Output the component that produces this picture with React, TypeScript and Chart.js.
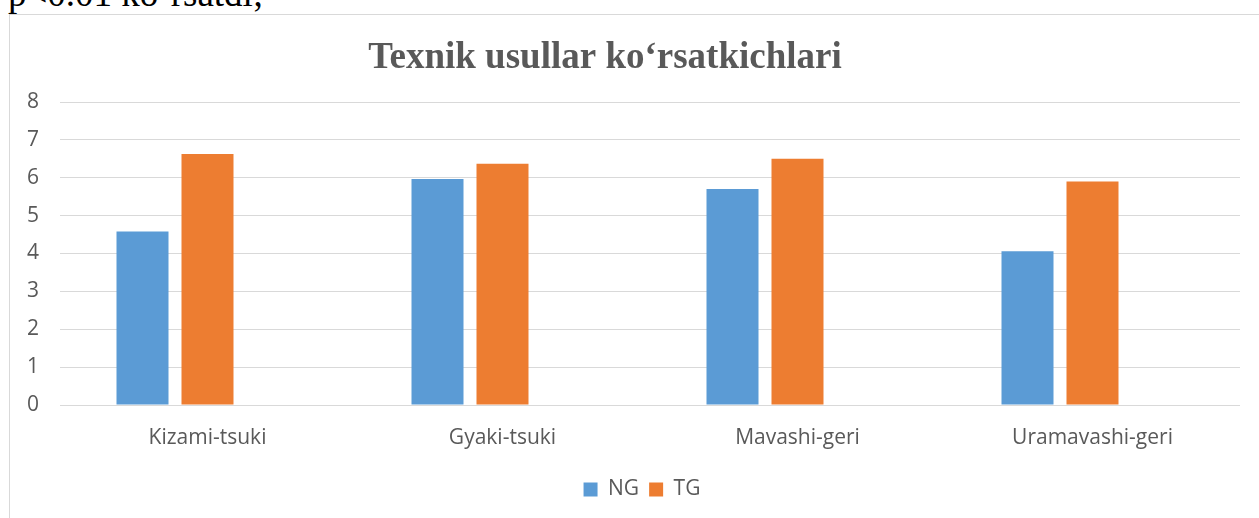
import React, { useEffect, useRef } from "react";
import { Chart, registerables } from "chart.js";

Chart.register(...registerables);

const categories = ["Kizami-tsuki", "Gyaki-tsuki", "Mavashi-geri", "Uramavashi-geri"];
const ngValues = [4.58, 5.97, 5.7, 4.06];
const tgValues = [6.63, 6.37, 6.5, 5.9];
const emptyValues: (number | null)[] = [null, null, null, null];
const seriesNames = ["NG", "TG", ""];
const yMin = 0;
const yMax = 8;
const yStep = 1;
const chartTitle = "Texnik usullar ko‘rsatkichlari";
const topText = "p<0.01 ko‘rsatdi;";

const TICK_FONT = { family: "'Open Sans', sans-serif", size: 21 };
const GREY = "#595959";

const titlePlugin = {
  id: "customTitle",
  afterDraw(chart: any) {
    const ctx = chart.ctx;
    ctx.save();
    ctx.font = "bold 37px 'Liberation Serif', 'Times New Roman', serif";
    ctx.fillStyle = GREY;
    ctx.textAlign = "center";
    ctx.textBaseline = "alphabetic";
    ctx.fillText(chartTitle, 595, 53);
    ctx.restore();
  },
};

function BarChart() {
  const ref = useRef<HTMLCanvasElement | null>(null);
  useEffect(() => {
    if (!ref.current) return;
    const chart = new Chart(ref.current, {
      type: "bar",
      data: {
        labels: categories,
        datasets: [
          { label: seriesNames[0], data: ngValues, backgroundColor: "#5B9BD5" },
          { label: seriesNames[1], data: tgValues, backgroundColor: "#ED7D31" },
          { label: seriesNames[2], data: emptyValues, backgroundColor: "#A5A5A5" },
        ],
      },
      options: {
        responsive: false,
        animation: false,
        layout: { padding: { top: 87, right: 30, left: 34, bottom: 15 } },
        datasets: {
          bar: { categoryPercentage: 0.661, barPercentage: 0.8 },
        },
        scales: {
          x: {
            grid: { display: false, drawTicks: false },
            border: { display: false },
            ticks: { font: TICK_FONT, color: GREY, padding: 20, maxRotation: 0 },
            afterFit(scale: any) {
              scale.height = 64;
            },
          },
          y: {
            min: yMin,
            max: yMax,
            grid: { color: "#d9d9d9", lineWidth: 1, drawTicks: false },
            border: { display: false },
            ticks: {
              stepSize: yStep,
              font: TICK_FONT,
              color: GREY,
              mirror: true,
              crossAlign: "near",
              padding: -33,
            },
            afterFit(scale: any) {
              scale.width = 16;
            },
          },
        },
        plugins: {
          title: { display: false },
          tooltip: { enabled: false },
          legend: {
            position: "bottom",
            labels: {
              boxWidth: 14,
              boxHeight: 14,
              padding: 10,
              font: TICK_FONT,
              color: GREY,
              filter: (item: any) => item.text !== "",
            },
          },
        },
      },
      plugins: [titlePlugin],
    });
    return () => chart.destroy();
  }, []);
  return <canvas ref={ref} width={1260} height={510} style={{ display: "block" }} />;
}

export default function App() {
  return (
    <div
      style={{
        position: "fixed",
        left: 0,
        top: 0,
        width: 1259,
        height: 518,
        overflow: "hidden",
        background: "#fff",
      }}
    >
      <div
        style={{
          position: "absolute",
          left: 8,
          top: -25,
          fontFamily: "'Liberation Serif', 'Times New Roman', serif",
          fontSize: 37,
          lineHeight: "37px",
          color: "#000",
          whiteSpace: "nowrap",
        }}
      >
        {topText}
      </div>
      <div
        style={{
          position: "absolute",
          left: 9,
          top: 14,
          width: 1260,
          height: 510,
          border: "1px solid #d9d9d9",
          background: "#fff",
        }}
      >
        <BarChart />
      </div>
    </div>
  );
}
